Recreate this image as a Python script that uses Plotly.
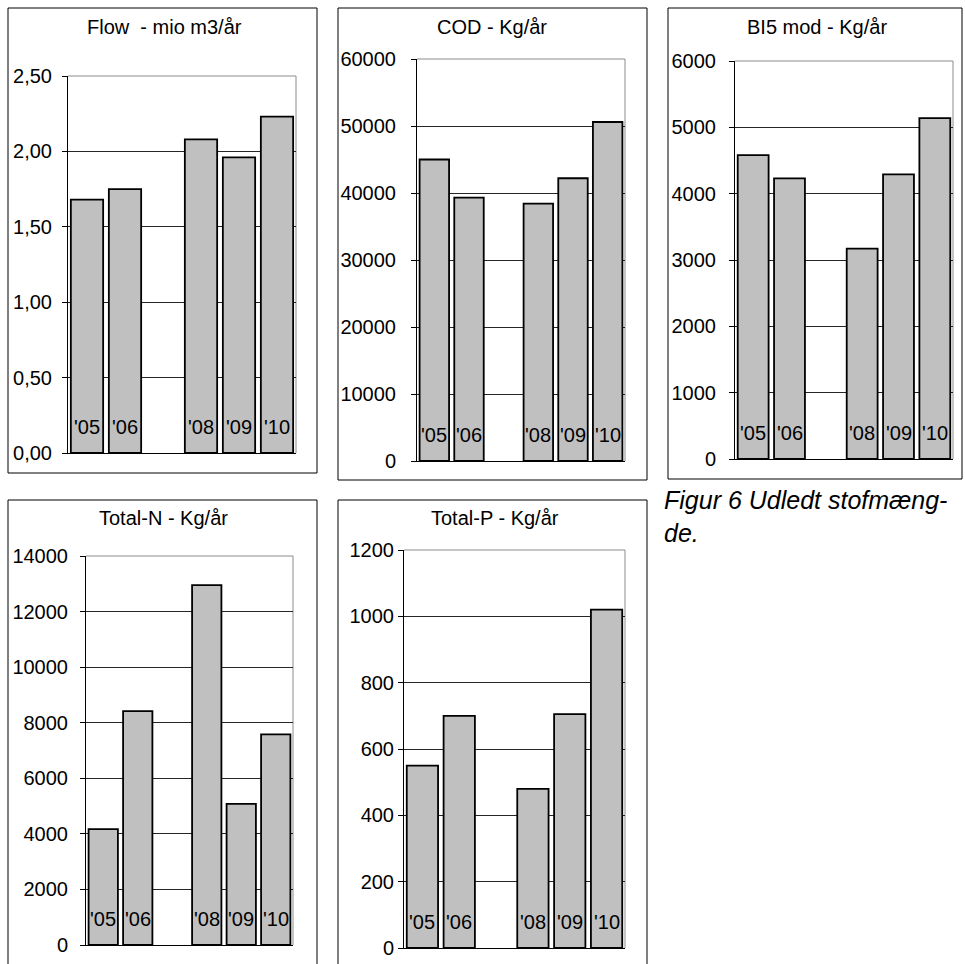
import plotly.graph_objects as go

# Annual discharge per parameter; 2007 has no measurement
years = ["'05", "'06", "'07", "'08", "'09", "'10"]
flow = [1.68, 1.75, None, 2.08, 1.96, 2.23]          # mio m3/år
cod = [45000, 39300, None, 38400, 42200, 50600]      # Kg/år
bi5 = [4580, 4230, None, 3170, 4290, 5140]           # Kg/år
total_n = [4170, 8420, None, 12950, 5080, 7580]      # Kg/år
total_p = [550, 700, None, 480, 705, 1020]           # Kg/år

titles = ["Flow\u00a0 - mio m3/år", "COD - Kg/år", "BI5 mod - Kg/år",
          "Total-N - Kg/år", "Total-P - Kg/år"]
series = [flow, cod, bi5, total_n, total_p]
y_max = [2.5, 60000, 6000, 14000, 1200]
y_step = [0.5, 10000, 1000, 2000, 200]
y_format = [".2f", "d", "d", "d", "d"]

caption = ["Figur 6 Udledt stofmæng-", "de."]

W, H = 965, 964
FONT = "Liberation Sans, Arial, sans-serif"

# page layout in pixels: plot area (x0, x1, ytop, ybottom), frame box, title centre
plot_px = [(68, 296, 76, 453), (417, 625, 59, 461), (735, 953, 61, 459),
           (86, 293, 556, 945), (404, 625, 550, 948)]
box_px = [(8, 317, 8, 473), (338, 647, 8, 480), (668, 962, 8, 479),
          (8, 317, 500, 1000), (338, 647, 500, 1000)]
title_px = [(164, 27), (492, 27), (817, 27), (163, 518), (495, 518)]
label_standoff = [6, 11, 9, 8, 0]


def fx(px):
    return px / W


def fy(py):
    return 1 - py / H


fig = go.Figure()
layout = dict(
    width=W, height=H, autosize=False,
    margin=dict(l=0, r=0, t=0, b=0, pad=0, autoexpand=False),
    paper_bgcolor="white", plot_bgcolor="white", showlegend=False,
    separators=",.", font=dict(family=FONT, size=20, color="black"),
)
shapes, annotations = [], []

for i, vals in enumerate(series):
    suffix = "" if i == 0 else str(i + 1)
    xa, ya = "x" + suffix, "y" + suffix
    xs = [k for k, v in enumerate(vals) if v is not None]
    ys = [v for v in vals if v is not None]
    fig.add_trace(go.Bar(
        x=xs, y=ys, xaxis=xa, yaxis=ya, width=0.85,
        marker=dict(color="#C0C0C0", line=dict(color="black", width=1.8)),
        hoverinfo="skip",
    ))
    x0, x1, yt, yb = plot_px[i]
    layout["xaxis" + suffix] = dict(
        domain=[fx(x0), fx(x1)], anchor=ya, range=[-0.5, len(years) - 0.5],
        showticklabels=False, ticks="", showgrid=False, zeroline=False,
        showline=True, linecolor="black", linewidth=1, fixedrange=True,
        automargin=False,
    )
    layout["yaxis" + suffix] = dict(
        domain=[fy(yb), fy(yt)], anchor=xa, range=[0, y_max[i]],
        dtick=y_step[i], tick0=0, tickformat=y_format[i],
        showgrid=True, gridcolor="#262626", gridwidth=1, zeroline=False,
        showline=True, linecolor="black", linewidth=1,
        ticks="outside", ticklen=5, tickcolor="black", tickwidth=1,
        ticklabelstandoff=label_standoff[i], automargin=False,
        tickfont=dict(family=FONT, size=20, color="black"), fixedrange=True,
    )
    # grey top and right edge of the plot area
    shapes.append(dict(type="line", xref=f"{xa} domain", yref=f"{ya} domain",
                       x0=0, x1=1, y0=1, y1=1, layer="below",
                       line=dict(color="#8c8c8c", width=1)))
    shapes.append(dict(type="line", xref=f"{xa} domain", yref=f"{ya} domain",
                       x0=1, x1=1, y0=0, y1=1, layer="below",
                       line=dict(color="#8c8c8c", width=1)))
    # frame round the whole chart
    bx0, bx1, by0, by1 = box_px[i]
    shapes.append(dict(type="rect", xref="paper", yref="paper",
                       x0=fx(bx0), x1=fx(bx1), y0=fy(by1), y1=fy(by0),
                       line=dict(color="black", width=1)))
    tx, ty = title_px[i]
    annotations.append(dict(text=titles[i], xref="paper", yref="paper",
                            x=fx(tx), y=fy(ty), xanchor="center", yanchor="middle",
                            showarrow=False, font=dict(family=FONT, size=20, color="black")))
    # year labels sit inside the bars, near the base
    for k, v in enumerate(vals):
        if v is None:
            continue
        annotations.append(dict(text=years[k], xref=xa, yref=ya, x=k, y=0,
                                xanchor="center", yanchor="middle", yshift=26,
                                showarrow=False,
                                font=dict(family=FONT, size=20, color="black")))

# figure caption, hyphenated over two lines
annotations.append(dict(text="<i>" + "<br>".join(caption) + "</i>",
                        xref="paper", yref="paper", x=fx(662), y=fy(516),
                        xanchor="left", yanchor="middle", align="left",
                        showarrow=False,
                        font=dict(family=FONT, size=25, color="black")))

layout["shapes"] = shapes
layout["annotations"] = annotations
fig.update_layout(**layout)
fig.write_html("out.html")
